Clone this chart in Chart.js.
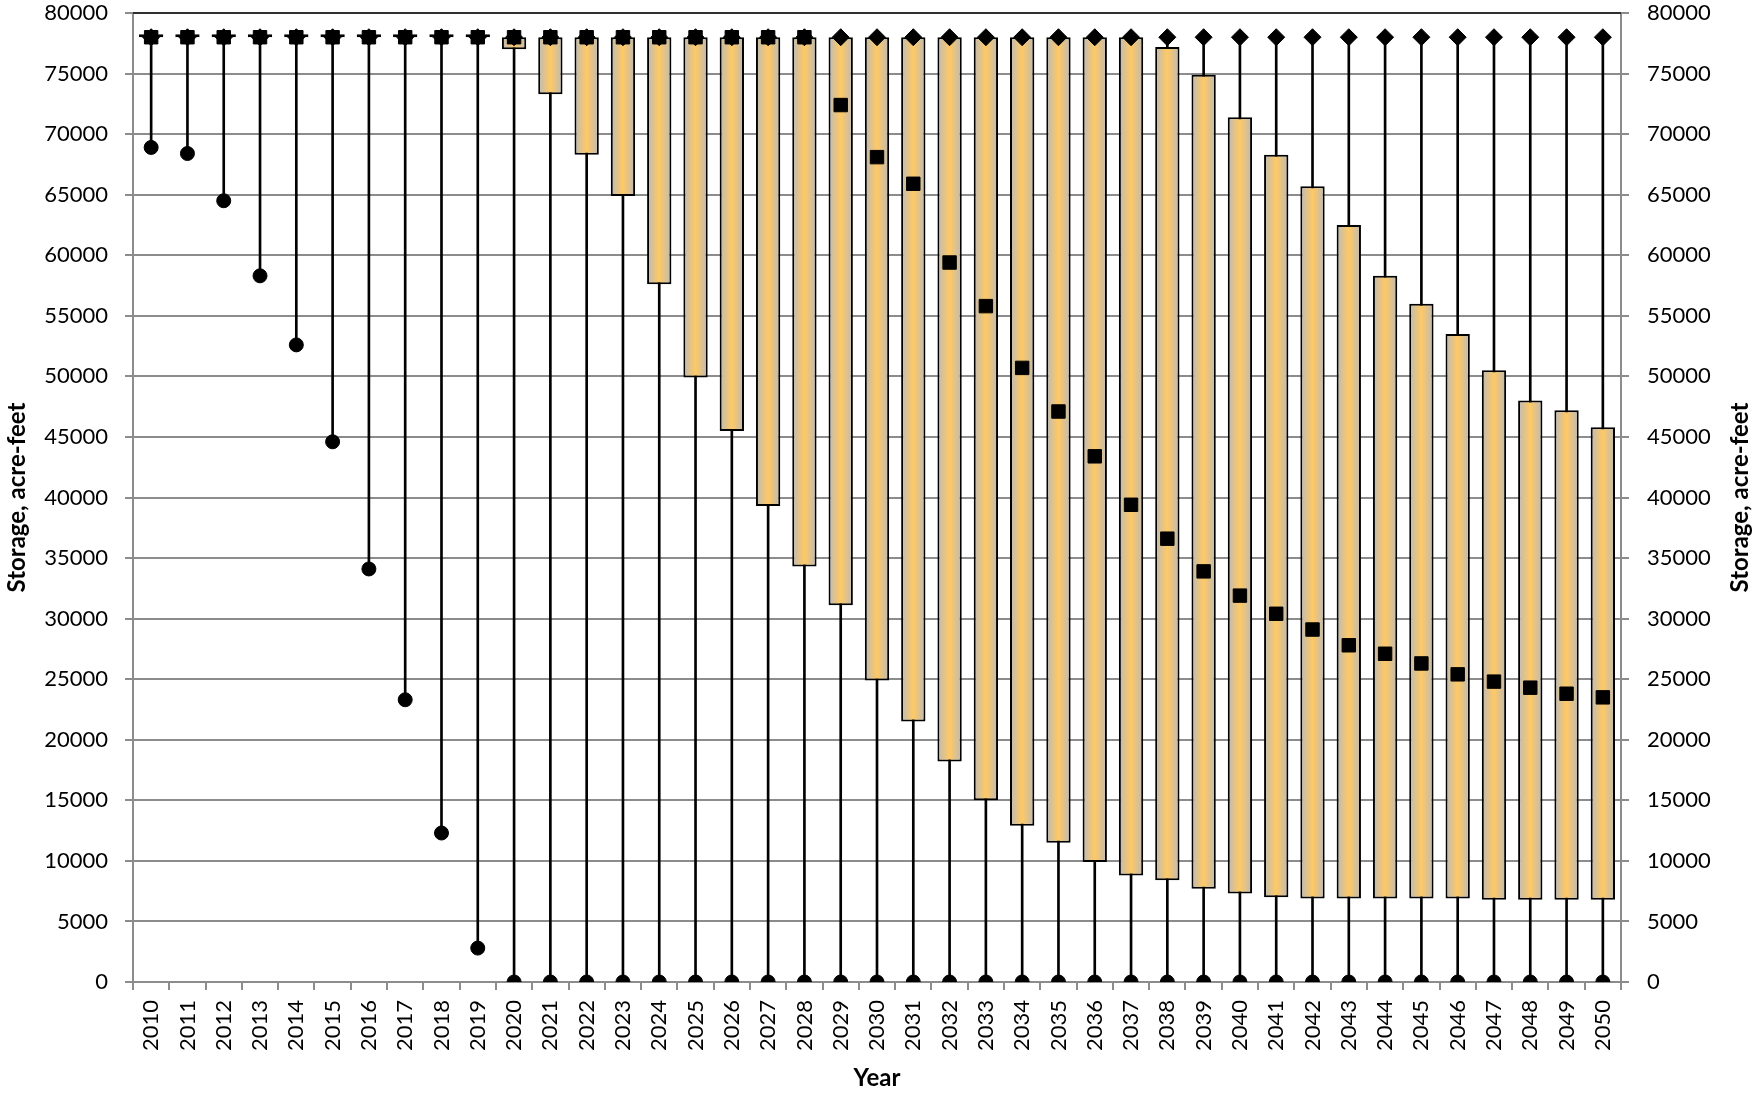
<!DOCTYPE html>
<html>
<head>
<meta charset="utf-8">
<title>Storage, acre-feet</title>
<script src="https://cdn.jsdelivr.net/npm/chart.js@4.4.1/dist/chart.umd.min.js"></script>
<style>
    html, body { margin: 0; padding: 0; background: #fff; }
    #wrap { width: 1754px; height: 1096px; }
</style>
</head>
<body>
<div id="wrap"><canvas id="storageChart" width="1754" height="1096"></canvas></div>
<script>
// Yearly storage ranges (acre-feet)
const years = ['2010', '2011', '2012', '2013', '2014', '2015', '2016', '2017', '2018', '2019',
    '2020', '2021', '2022', '2023', '2024', '2025', '2026', '2027', '2028', '2029',
    '2030', '2031', '2032', '2033', '2034', '2035', '2036', '2037', '2038', '2039',
    '2040', '2041', '2042', '2043', '2044', '2045', '2046', '2047', '2048', '2049', '2050'];

const maxVals = [78000, 78000, 78000, 78000, 78000, 78000, 78000, 78000, 78000, 78000,
    78000, 78000, 78000, 78000, 78000, 78000, 78000, 78000, 78000, 78000,
    78000, 78000, 78000, 78000, 78000, 78000, 78000, 78000, 78000, 78000,
    78000, 78000, 78000, 78000, 78000, 78000, 78000, 78000, 78000, 78000, 78000];

const minVals = [68900, 68400, 64500, 58300, 52600, 44600, 34100, 23300, 12300, 2800,
    0, 0, 0, 0, 0, 0, 0, 0, 0, 0,
    0, 0, 0, 0, 0, 0, 0, 0, 0, 0,
    0, 0, 0, 0, 0, 0, 0, 0, 0, 0, 0];

const boxLow = [78000, 78000, 78000, 78000, 78000, 78000, 78000, 78000, 78000, 78000,
    77000, 73300, 68300, 64900, 57600, 49900, 45500, 39300, 34300, 31100,
    24900, 21500, 18200, 15000, 12900, 11500, 9900, 8800, 8400, 7700,
    7300, 7000, 6900, 6900, 6900, 6900, 6900, 6800, 6800, 6800, 6800];

const boxHigh = [78000, 78000, 78000, 78000, 78000, 78000, 78000, 78000, 78000, 78000,
    78000, 78000, 78000, 78000, 78000, 78000, 78000, 78000, 78000, 78000,
    78000, 78000, 78000, 78000, 78000, 78000, 78000, 78000, 77200, 74900,
    71400, 68300, 65700, 62500, 58300, 56000, 53500, 50500, 48000, 47200, 45800];

const medianVals = [78000, 78000, 78000, 78000, 78000, 78000, 78000, 78000, 78000, 78000,
    78000, 78000, 78000, 78000, 78000, 78000, 78000, 78000, 78000, 72400,
    68100, 65900, 59400, 55800, 50700, 47100, 43400, 39400, 36600, 33900,
    31900, 30400, 29100, 27800, 27100, 26300, 25400, 24800, 24300, 23800, 23500];

const yTitle = 'Storage, acre-feet';
const xTitle = 'Year';

const gridGrey = '#8c8c8c';
const BOX_PCT = 0.67;

Chart.defaults.font.family = 'Lato, "Open Sans", sans-serif';
Chart.defaults.color = '#000';

// horizontal grey-orange-grey gradient for each box
function boxFill(ctx) {
    const chart = ctx.chart;
    const xs = chart.scales.x;
    if (!chart.chartArea || !xs || ctx.type !== 'data') return '#ffc864';
    const cx = xs.getPixelForValue(ctx.dataIndex);
    const half = (xs.getPixelForValue(1) - xs.getPixelForValue(0)) * BOX_PCT / 2;
    const g = chart.ctx.createLinearGradient(cx - half, 0, cx + half, 0);
    g.addColorStop(0, '#bdbab6');
    g.addColorStop(0.5, '#ffc965');
    g.addColorStop(1, '#bdbab6');
    return g;
}

// top frame line and right axis title
const framePlugin = {
    id: 'frame',
    afterDraw(chart) {
        const { ctx, chartArea } = chart;
        ctx.save();
        ctx.strokeStyle = '#303030';
        ctx.lineWidth = 2;
        ctx.beginPath();
        ctx.moveTo(chartArea.left, Math.round(chartArea.top));
        ctx.lineTo(chartArea.right, Math.round(chartArea.top));
        ctx.stroke();

        ctx.translate(1740, (chartArea.top + chartArea.bottom) / 2);
        ctx.rotate(-Math.PI / 2);
        ctx.font = 'bold 24px Lato, "Open Sans", sans-serif';
        ctx.fillStyle = '#000';
        ctx.textAlign = 'center';
        ctx.textBaseline = 'middle';
        ctx.fillText(yTitle, 0, 0);
        ctx.restore();
    }
};

const tickFont = { size: 22 };
const titleFont = { size: 24, weight: 'bold' };

// keep the plot area edges where the reference has them
function fitVertical(s) {
    s.width = 133;
    s.paddingTop = 12;
    s.paddingBottom = 12;
}

new Chart(document.getElementById('storageChart'), {
    type: 'bar',
    data: {
        labels: years,
        datasets: [
            {
                label: 'Range',
                data: years.map((_, i) => [minVals[i], maxVals[i]]),
                backgroundColor: '#000',
                barThickness: 2,
                grouped: false,
                order: 5
            },
            {
                label: 'Box',
                data: years.map((_, i) => [boxLow[i], boxHigh[i]]),
                backgroundColor: boxFill,
                borderColor: '#000',
                borderWidth: 2,
                borderSkipped: false,
                minBarLength: 3,
                barPercentage: BOX_PCT,
                categoryPercentage: 1,
                grouped: false,
                order: 4
            },
            {
                type: 'line',
                label: 'Minimum',
                data: minVals,
                showLine: false,
                pointStyle: 'circle',
                pointRadius: 7,
                backgroundColor: '#000',
                borderColor: '#000',
                order: 3
            },
            {
                type: 'line',
                label: 'Median',
                data: medianVals,
                showLine: false,
                pointStyle: 'rect',
                pointRadius: 9.5,
                backgroundColor: '#000',
                borderColor: '#000',
                order: 2
            },
            {
                type: 'line',
                label: 'Maximum',
                data: maxVals,
                showLine: false,
                pointStyle: 'rectRot',
                pointRadius: 8.5,
                backgroundColor: '#000',
                borderColor: '#000',
                order: 1
            }
        ]
    },
    options: {
        responsive: false,
        animation: false,
        layout: { padding: { top: 13, left: 0, right: 0, bottom: 0 } },
        plugins: {
            legend: { display: false },
            tooltip: { enabled: false }
        },
        scales: {
            x: {
                offset: true,
                grid: { drawOnChartArea: false, offset: true, tickLength: 8, color: gridGrey, lineWidth: 2 },
                border: { color: gridGrey, width: 2 },
                ticks: { font: tickFont, minRotation: 90, maxRotation: 90, autoSkip: false, padding: 10 },
                title: { display: true, text: xTitle, font: titleFont, padding: { top: 0, bottom: 3 } },
                afterFit: s => { s.height = 114; }
            },
            y: {
                position: 'left',
                min: 0,
                max: 80000,
                grid: { color: gridGrey, lineWidth: 2, tickLength: 8 },
                border: { color: gridGrey, width: 2 },
                ticks: { stepSize: 5000, font: tickFont, padding: 17, callback: v => String(v) },
                title: { display: true, text: yTitle, font: titleFont, padding: { top: 3, bottom: 0 } },
                afterFit: fitVertical
            },
            y2: {
                position: 'right',
                min: 0,
                max: 80000,
                grid: { drawOnChartArea: false, color: gridGrey, lineWidth: 2, tickLength: 8 },
                border: { color: gridGrey, width: 2 },
                ticks: { stepSize: 5000, font: tickFont, padding: 18, callback: v => String(v) },
                afterFit: fitVertical
            }
        }
    },
    plugins: [framePlugin]
});
</script>
</body>
</html>
